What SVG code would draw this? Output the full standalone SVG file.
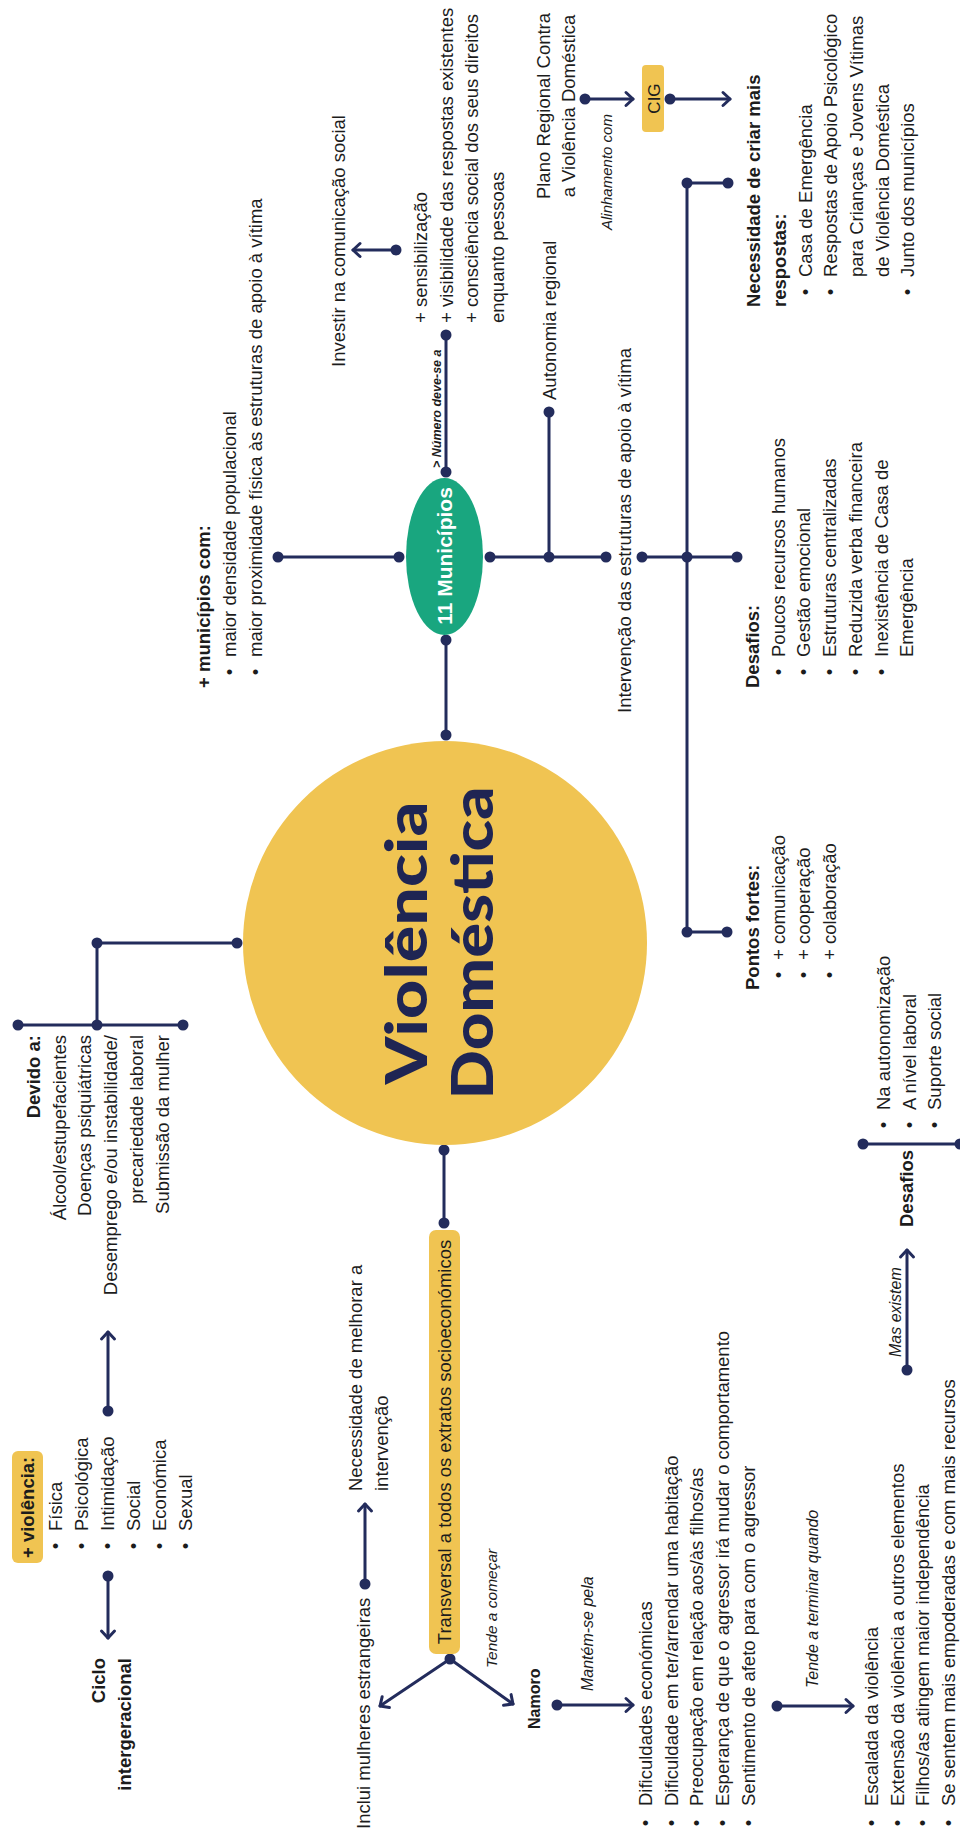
<svg xmlns="http://www.w3.org/2000/svg" width="960" height="1836" viewBox="0 0 960 1836">
<style>
.t{font-family:"Liberation Sans",Arial,sans-serif;font-size:18.5px;fill:#1c1c1c}
.b{font-weight:bold}
.i{font-style:italic}
.m{text-anchor:middle}
.e{text-anchor:end}
.ln{stroke:#232c5c;stroke-width:3;fill:none;stroke-linecap:round;stroke-linejoin:round}
.dot{fill:#232c5c}
.yel{fill:#f0c452}
.title{font-family:Lato,"Liberation Sans",sans-serif;font-weight:900;font-size:58px;fill:#1f2553;text-anchor:middle}
</style>
<defs>
<marker id="arr" markerUnits="userSpaceOnUse" markerWidth="20" markerHeight="20" viewBox="-10 -10 20 20" refX="0" refY="0" orient="auto">
<path d="M-7,-6.5 L0,0 L-7,6.5" fill="none" stroke="#232c5c" stroke-width="3" stroke-linecap="round" stroke-linejoin="round"/>
</marker>
</defs>
<rect width="960" height="1836" fill="#ffffff"/>
<!-- the map is laid out landscape (1836 x 960) and turned a quarter turn -->
<g transform="translate(0,1836) rotate(-90)">

<g id="connectors">
<path class="ln" d="M1101,446 H1196"/>
<path class="ln" d="M1364,446 H1501"/>
<path class="ln" d="M1586,396 V353" marker-end="url(#arr)"/>
<path class="ln" d="M1279,399 V278"/>
<path class="ln" d="M1279,490 V606"/>
<path class="ln" d="M1279,549 H1424"/>
<path class="ln" d="M1279,642 V737"/>
<path class="ln" d="M904,687 H1653"/>
<path class="ln" d="M904,687 V727"/>
<path class="ln" d="M1653,687 V728"/>
<path class="ln" d="M1737,585 V633" marker-end="url(#arr)"/>
<path class="ln" d="M1737,670 V730" marker-end="url(#arr)"/>
<path class="ln" d="M893,237 V97 H811"/>
<path class="ln" d="M811,18 V183"/>
<path class="ln" d="M686,444 H613"/>
<path class="ln" d="M177,450 L130,380" marker-end="url(#arr)"/>
<path class="ln" d="M177,450 L132,513" marker-end="url(#arr)"/>
<path class="ln" d="M252,365 H332" marker-end="url(#arr)"/>
<path class="ln" d="M131,557 V633" marker-end="url(#arr)"/>
<path class="ln" d="M130,777 V853" marker-end="url(#arr)"/>
<path class="ln" d="M260,108 H198" marker-end="url(#arr)"/>
<path class="ln" d="M425,108 H504" marker-end="url(#arr)"/>
<path class="ln" d="M466,907 H586" marker-end="url(#arr)"/>
<path class="ln" d="M692,863 V962"/>
<g class="dot">
<circle cx="1101" cy="446" r="5.5"/><circle cx="1196" cy="446" r="5.5"/>
<circle cx="1364" cy="446" r="5.5"/><circle cx="1501" cy="446" r="5.5"/>
<circle cx="1586" cy="396" r="5.5"/>
<circle cx="1279" cy="399" r="5.5"/><circle cx="1279" cy="278" r="5.5"/>
<circle cx="1279" cy="490" r="5.5"/><circle cx="1279" cy="549" r="5.5"/>
<circle cx="1279" cy="606" r="5.5"/><circle cx="1424" cy="549" r="5.5"/>
<circle cx="1279" cy="642" r="5.5"/><circle cx="1279" cy="687" r="5.5"/>
<circle cx="1279" cy="737" r="5.5"/>
<circle cx="904" cy="687" r="5.5"/><circle cx="1653" cy="687" r="5.5"/>
<circle cx="904" cy="727" r="5.5"/><circle cx="1653" cy="728" r="5.5"/>
<circle cx="1737" cy="585" r="5.5"/><circle cx="1737" cy="670" r="5.5"/>
<circle cx="893" cy="237" r="5.5"/><circle cx="893" cy="97" r="5.5"/>
<circle cx="811" cy="97" r="5.5"/><circle cx="811" cy="18" r="5.5"/>
<circle cx="811" cy="183" r="5.5"/>
<circle cx="686" cy="444" r="5.5"/><circle cx="613" cy="444" r="5.5"/>
<circle cx="177" cy="450" r="5.5"/>
<circle cx="252" cy="365" r="5.5"/>
<circle cx="131" cy="557" r="5.5"/>
<circle cx="130" cy="777" r="5.5"/>
<circle cx="260" cy="108" r="5.5"/><circle cx="425" cy="108" r="5.5"/>
<circle cx="466" cy="907" r="5.5"/>
<circle cx="692" cy="863" r="5.5"/><circle cx="692" cy="960" r="5.5"/>
</g>
</g>

<g id="central">
<circle class="yel" cx="893" cy="445" r="202"/>
<text class="title" x="893" y="427" textLength="283" lengthAdjust="spacingAndGlyphs">Violência</text>
<text class="title" x="893" y="493" textLength="313" lengthAdjust="spacingAndGlyphs">Doméstica</text>
</g>

<g id="municipios-11">
<ellipse cx="1279.5" cy="444.5" rx="78.5" ry="38.5" fill="#19a67f"/>
<text class="t b m" x="1280" y="452" style="font-size:21px;fill:#ffffff">11 Municípios</text>
</g>

<g id="mais-municipios">
<text class="t b" x="1148" y="210">+ municípios com:</text>
<text class="t m" x="1164" y="236">•</text><text class="t" x="1179" y="236">maior densidade populacional</text>
<text class="t m" x="1164" y="261.5">•</text><text class="t" x="1179" y="261.5">maior proximidade física às estruturas de apoio à vítima</text>
</g>

<g id="numero-label">
<text class="t b i" x="1368" y="441" style="font-size:12.5px">&gt; Número deve-se a</text>
</g>

<g id="sensibilizacao">
<text class="t" x="1513" y="427">+ sensibilização</text>
<text class="t" x="1513" y="452.5">+ visibilidade das respostas existentes</text>
<text class="t" x="1513" y="478">+ consciência social dos seus direitos</text>
<text class="t" x="1513" y="503.5">enquanto pessoas</text>
</g>

<g id="investir">
<text class="t m" x="1595" y="345">Investir na comunicação social</text>
</g>

<g id="autonomia">
<text class="t" x="1436" y="555.5">Autonomia regional</text>
</g>

<g id="intervencao">
<text class="t" x="1123" y="631">Intervenção das estruturas de apoio à vítima</text>
</g>

<g id="desafios-estruturas">
<text class="t b" x="1148" y="759">Desafios:</text>
<text class="t m" x="1164" y="784.7">•</text><text class="t" x="1179" y="784.7">Poucos recursos humanos</text>
<text class="t m" x="1164" y="810.4">•</text><text class="t" x="1179" y="810.4">Gestão emocional</text>
<text class="t m" x="1164" y="836.1">•</text><text class="t" x="1179" y="836.1">Estruturas centralizadas</text>
<text class="t m" x="1164" y="861.8">•</text><text class="t" x="1179" y="861.8">Reduzida verba financeira</text>
<text class="t m" x="1164" y="887.5">•</text><text class="t" x="1179" y="887.5">Inexistência de Casa de</text>
<text class="t" x="1179" y="913.2">Emergência</text>
</g>

<g id="pontos-fortes">
<text class="t b" x="846" y="759">Pontos fortes:</text>
<text class="t m" x="861" y="784.7">•</text><text class="t" x="876" y="784.7">+ comunicação</text>
<text class="t m" x="861" y="810.4">•</text><text class="t" x="876" y="810.4">+ cooperação</text>
<text class="t m" x="861" y="836.1">•</text><text class="t" x="876" y="836.1">+ colaboração</text>
</g>

<g id="necessidade-respostas">
<text class="t b" x="1529" y="759.5">Necessidade de criar mais</text>
<text class="t b" x="1529" y="785.5">respostas:</text>
<text class="t m" x="1544" y="811.5">•</text><text class="t" x="1559" y="811.5">Casa de Emergência</text>
<text class="t m" x="1544" y="837">•</text><text class="t" x="1559" y="837">Respostas de Apoio Psicológico</text>
<text class="t" x="1559" y="863">para Crianças e Jovens Vítimas</text>
<text class="t" x="1559" y="888.5">de Violência Doméstica</text>
<text class="t m" x="1544" y="914">•</text><text class="t" x="1559" y="914">Junto dos municípios</text>
</g>

<g id="cig">
<rect class="yel" x="1704" y="642" width="67" height="22" rx="4"/>
<text class="t m" x="1737.5" y="659.5" style="font-size:17px">CIG</text>
</g>

<g id="plano-regional">
<text class="t m" x="1730" y="550">Plano Regional Contra</text>
<text class="t m" x="1730" y="575">a Violência Doméstica</text>
</g>

<g id="alinhamento">
<text class="t i" x="1606" y="612" style="font-size:15px">Alinhamento com</text>
</g>

<g id="devido">
<text class="t b e" x="801" y="40">Devido a:</text>
<text class="t e" x="801" y="65.7">Álcool/estupefacientes</text>
<text class="t e" x="801" y="91.4">Doenças psiquiátricas</text>
<text class="t e" x="801" y="117.1">Desemprego e/ou instabilidade/</text>
<text class="t e" x="801" y="142.8">precariedade laboral</text>
<text class="t e" x="801" y="168.5">Submissão da mulher</text>
</g>

<g id="tipos-violencia">
<rect class="yel" x="273" y="12" width="112" height="31" rx="6"/>
<text class="t b" x="278" y="34">+ violência:</text>
<text class="t m" x="290" y="62">•</text><text class="t" x="305" y="62">Física</text>
<text class="t m" x="290" y="88">•</text><text class="t" x="305" y="88">Psicológica</text>
<text class="t m" x="290" y="114">•</text><text class="t" x="305" y="114">Intimidação</text>
<text class="t m" x="290" y="140">•</text><text class="t" x="305" y="140">Social</text>
<text class="t m" x="290" y="166">•</text><text class="t" x="305" y="166">Económica</text>
<text class="t m" x="290" y="192">•</text><text class="t" x="305" y="192">Sexual</text>
</g>

<g id="ciclo">
<text class="t b e" x="178" y="105">Ciclo</text>
<text class="t b e" x="178" y="131">intergeracional</text>
</g>

<g id="transversal">
<rect class="yel" x="182" y="429" width="424" height="31" rx="7"/>
<text class="t m" x="394" y="451">Transversal a todos os extratos socioeconómicos</text>
</g>

<g id="estrangeiras">
<text class="t" x="7" y="370">Inclui mulheres estrangeiras</text>
</g>

<g id="melhorar">
<text class="t" x="345" y="362">Necessidade de melhorar a</text>
<text class="t" x="345" y="388">intervenção</text>
</g>

<g id="tende-comecar">
<text class="t i" x="168" y="497" style="font-size:15.5px">Tende a começar</text>
</g>

<g id="namoro">
<text class="t b" x="107" y="540" style="font-size:16px">Namoro</text>
</g>

<g id="mantem">
<text class="t i" x="145" y="593" style="font-size:16px">Mantém-se pela</text>
</g>

<g id="dificuldades">
<text class="t m" x="13" y="652">•</text><text class="t" x="30" y="652">Dificuldades económicas</text>
<text class="t m" x="13" y="677.7">•</text><text class="t" x="30" y="677.7">Dificuldade em ter/arrendar uma habitação</text>
<text class="t m" x="13" y="703.4">•</text><text class="t" x="30" y="703.4">Preocupação em relação aos/às filhos/as</text>
<text class="t m" x="13" y="729.1">•</text><text class="t" x="30" y="729.1">Esperança de que o agressor irá mudar o comportamento</text>
<text class="t m" x="13" y="754.8">•</text><text class="t" x="30" y="754.8">Sentimento de afeto para com o agressor</text>
</g>

<g id="tende-terminar">
<text class="t i" x="148" y="818" style="font-size:16px">Tende a terminar quando</text>
</g>

<g id="terminar">
<text class="t m" x="13" y="878">•</text><text class="t" x="30" y="878">Escalada da violência</text>
<text class="t m" x="13" y="903.7">•</text><text class="t" x="30" y="903.7">Extensão da violência a outros elementos</text>
<text class="t m" x="13" y="929.4">•</text><text class="t" x="30" y="929.4">Filhos/as atingem maior independência</text>
<text class="t m" x="13" y="955.1">•</text><text class="t" x="30" y="955.1">Se sentem mais empoderadas e com mais recursos</text>
</g>

<g id="mas-existem">
<text class="t i" x="479" y="901" style="font-size:16px">Mas existem</text>
</g>

<g id="desafios-autonomia">
<text class="t b" x="609" y="913">Desafios</text>
<text class="t m" x="711" y="890">•</text><text class="t" x="726" y="890">Na autonomização</text>
<text class="t m" x="711" y="915.7">•</text><text class="t" x="726" y="915.7">A nível laboral</text>
<text class="t m" x="711" y="941.4">•</text><text class="t" x="726" y="941.4">Suporte social</text>
</g>

</g>
</svg>
